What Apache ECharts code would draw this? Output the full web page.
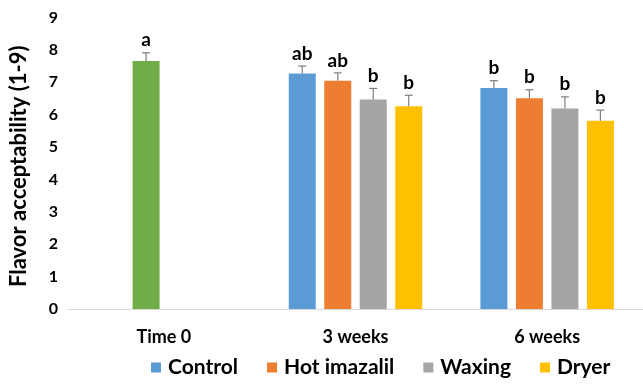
<!DOCTYPE html>
<html><head><meta charset="utf-8">
<script src="https://cdn.jsdelivr.net/npm/echarts@6/dist/echarts.min.js"></script>
<style>html,body{margin:0;padding:0;background:#fff}#c{width:643px;height:384px}</style>
</head><body><div id="c"></div>
<script>
const categories = ['Time 0', '3 weeks', '6 weeks'];
const seriesNames = ['Control', 'Hot imazalil', 'Waxing', 'Dryer'];
// Time 0 value is drawn in the second slot (green), as in the original
const control     = [null, 7.27, 6.82];
const hotImazalil = [7.66, 7.05, 6.51];
const waxing      = [null, 6.47, 6.19];
const dryer       = [null, 6.26, 5.81];
const controlErr     = [null, 0.23, 0.23];
const hotImazalilErr = [0.25, 0.24, 0.26];
const waxingErr      = [null, 0.34, 0.36];
const dryerErr       = [null, 0.34, 0.33];
const controlLetters     = [null, 'ab', 'b'];
const hotImazalilLetters = ['a', 'ab', 'b'];
const waxingLetters      = [null, 'b', 'b'];
const dryerLetters       = [null, 'b', 'b'];
const yTicks = [0, 1, 2, 3, 4, 5, 6, 7, 8, 9];

const colors = ['#5B9BD5', '#ED7D31', '#A5A5A5', '#FFC000'];
const time0Color = '#70AD47';
const FONT = 'Lato';
const BAR_W = 27, GAP = 8.5;

const values = [control, hotImazalil, waxing, dryer];
const errs = [controlErr, hotImazalilErr, waxingErr, dryerErr];
const letters = [controlLetters, hotImazalilLetters, waxingLetters, dryerLetters];

const barSeries = seriesNames.map((name, s) => ({
  name, type: 'bar', barWidth: BAR_W, barGap: (GAP / BAR_W * 100) + '%',
  itemStyle: { color: colors[s] },
  data: values[s].map((v, i) => {
    if (v == null) return '-';
    if (i === 0) return { value: v, itemStyle: { color: time0Color } };
    return v;
  })
}));

const errData = [];
const errLetters = [];
values.forEach((arr, s) => arr.forEach((v, i) => {
  if (v != null) { errData.push([i, s, v, errs[s][i]]); errLetters.push(letters[s][i]); }
}));

const errSeries = {
  type: 'custom', silent: true, z: 5,
  encode: { x: 0, y: 2 },
  data: errData,
  renderItem(params, api) {
    const cat = api.value(0), s = api.value(1), v = api.value(2), e = api.value(3);
    const base = api.coord([cat, v]);
    const top = api.coord([cat, v + e]);
    const x = base[0] + (s - 1.5) * (BAR_W + GAP);
    const st = { stroke: '#7F7F7F', lineWidth: 1.2 };
    return { type: 'group', children: [
      { type: 'line', shape: { x1: x, y1: base[1], x2: x, y2: top[1] }, style: st },
      { type: 'line', shape: { x1: x - 4, y1: top[1], x2: x + 4, y2: top[1] }, style: st },
      { type: 'text', style: { x: x, y: top[1] - 3, text: errLetters[params.dataIndex],
        fill: '#000', font: 'bold 19px ' + FONT, textAlign: 'center', textVerticalAlign: 'bottom' } }
    ]};
  }
};

const chart = echarts.init(document.getElementById('c'), null, { renderer: 'canvas' });
chart.setOption({
  animation: false,
  color: colors,
  grid: { left: 62, right: 0, top: 17.5, bottom: 75 },
  legend: {
    data: seriesNames, bottom: 1, left: 146,
    icon: 'rect', itemWidth: 10, itemHeight: 10, itemGap: 29,
    textStyle: { fontFamily: FONT, fontWeight: 'bold', fontSize: 21, color: '#000', padding: [0, 0, 0, 2] }
  },
  xAxis: {
    type: 'category', data: categories,
    axisLine: { lineStyle: { color: '#D9D9D9', width: 1 } },
    axisTick: { show: false },
    axisLabel: { margin: 19, fontFamily: FONT, fontWeight: 'bold', fontSize: 18, color: '#000' }
  },
  yAxis: {
    type: 'value', min: yTicks[0], max: yTicks[yTicks.length - 1], interval: 1,
    name: 'Flavor acceptability (1-9)', nameLocation: 'middle', nameGap: 38,
    nameTextStyle: { fontFamily: FONT, fontWeight: 'bold', fontSize: 22, color: '#000', padding: [0, 6, 0, 0] },
    axisLine: { show: false }, axisTick: { show: false }, splitLine: { show: false },
    axisLabel: { margin: 10, fontFamily: FONT, fontWeight: 'bold', fontSize: 16, color: '#000' }
  },
  series: [...barSeries, errSeries]
});
</script></body></html>
